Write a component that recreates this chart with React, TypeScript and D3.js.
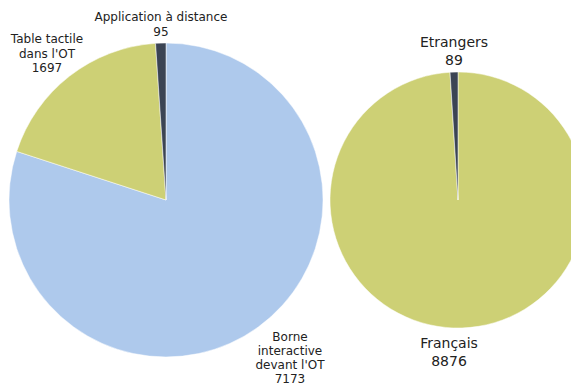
import React, { useEffect, useRef } from 'react'
import * as d3 from 'd3'

// left pie: support used
const supportLabels = [['Borne', 'interactive', "devant l'OT"], ['Table tactile', "dans l'OT"], ['Application à distance']]
const supportValues = [7173, 1697, 95]
// right pie: origin
const originLabels = [['Français'], ['Etrangers']]
const originValues = [8876, 89]

const colorsLeft = ['#aec9ec', '#cdd075', '#3b4454']
const colorsRight = ['#cdd075', '#3b4454']

export default function App () {
  const ref = useRef<SVGSVGElement>(null)

  useEffect(() => {
    const svg = d3.select(ref.current)
    svg.selectAll('*').remove()

    const pie = d3.pie<number>().sort(null).value(d => d)

    const drawPie = (values: number[], colors: string[], cx: number, cy: number, r: number) => {
      const arc = d3.arc<d3.PieArcDatum<number>>().innerRadius(0).outerRadius(r)
      const g = svg.append('g').attr('transform', 'translate(' + cx + ',' + cy + ')')
      g.selectAll('path')
        .data(pie(values))
        .enter()
        .append('path')
        .attr('d', arc)
        .attr('fill', (d, i) => colors[i])
        .attr('stroke', '#fff')
        .attr('stroke-width', 0.5)
    }

    drawPie(supportValues, colorsLeft, 166, 200, 157)
    drawPie(originValues, colorsRight, 458, 200, 128)

    // labels, each a block of lines ending with the value
    const label = (lines: string[], value: number, x: number, y: number, size: number, lh: number) => {
      const t = svg.append('text')
        .attr('text-anchor', 'middle')
        .attr('font-family', '"DejaVu Sans", sans-serif')
        .attr('font-size', size)
        .attr('fill', '#222')
      lines.concat([String(value)]).forEach((s, i) => {
        t.append('tspan').attr('x', x).attr('y', y + i * lh).text(s)
      })
    }

    label(supportLabels[2], supportValues[2], 161, 21, 12, 15)
    label(supportLabels[1], supportValues[1], 47, 43, 12, 14.5)
    label(supportLabels[0], supportValues[0], 290, 341, 12, 14)
    label(originLabels[1], originValues[1], 454, 47, 14, 18)
    label(originLabels[0], originValues[0], 449, 348, 14, 18)
  }, [])

  return (
    <svg ref={ref} width={571} height={383} style={{ position: 'absolute', left: 0, top: 0 }} />
  )
}
